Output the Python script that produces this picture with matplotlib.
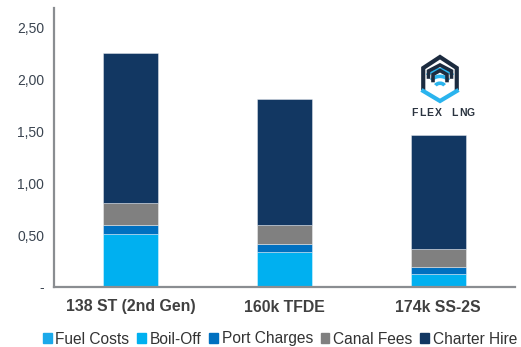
import matplotlib.pyplot as plt
import numpy as np
from matplotlib.patches import Arc

# cost per vessel type (USD/MMBtu)
vessels = ["138 ST (2nd Gen)", "160k TFDE", "174k SS-2S"]
fuel_costs = [0.0, 0.0, 0.0]
boil_off = [0.51, 0.335, 0.125]
port_charges = [0.09, 0.075, 0.065]
canal_fees = [0.21, 0.19, 0.175]
charter_hire = [1.45, 1.21, 1.105]

series = [
    ("Fuel Costs", fuel_costs, "#1ba9ea"),
    ("Boil-Off", boil_off, "#00b0f0"),
    ("Port Charges", port_charges, "#0070c0"),
    ("Canal Fees", canal_fees, "#808080"),
    ("Charter Hire", charter_hire, "#123762"),
]

plt.rcParams["font.family"] = ["Liberation Sans", "DejaVu Sans"]

fig = plt.figure(figsize=(5.21, 3.47), dpi=100)
ax = fig.add_axes([54 / 521, 60 / 347, 461 / 521, 279 / 347])

x = np.arange(len(vessels))
bottom = np.zeros(len(vessels))
for name, vals, col in series:
    vals = np.array(vals)
    ax.bar(x, vals, width=0.36, bottom=bottom, color=col, label=name,
           edgecolor=(1, 1, 1, 0.45), linewidth=0.6)
    bottom += vals

ax.set_xlim(-0.5, 2.5)
ax.set_ylim(0, 2.69)
ax.set_yticks([0, 0.5, 1.0, 1.5, 2.0, 2.5])
ax.set_yticklabels(["-", "0,50", "1,00", "1,50", "2,00", "2,50"],
                   fontsize=10, color="#3a4450")
ax.set_xticks(x)
ax.set_xticklabels(vessels, fontsize=11.4, fontweight="bold", color="#404040")
ax.tick_params(length=0)
ax.tick_params(axis="y", pad=7)
ax.tick_params(axis="x", pad=9)
for s in ["top", "right"]:
    ax.spines[s].set_visible(False)
for s in ["left", "bottom"]:
    ax.spines[s].set_color("#8a8d91")
    ax.spines[s].set_linewidth(1.6)

handles = [plt.Rectangle((0, 0), 1, 1, color=c) for _, _, c in series]
fig.legend(handles, [n for n, _, _ in series], loc="center",
           bbox_to_anchor=(280 / 521, 1 - 339 / 347), ncol=5, frameon=False,
           fontsize=11.2, handlelength=0.55, handleheight=0.55, handletextpad=0.25,
           columnspacing=0.5, labelcolor="#333333", borderpad=0)

# FLEX LNG logo, drawn in pixel coordinates
lax = fig.add_axes([400 / 521, 1 - 125 / 347, 90 / 521, 75 / 347])
lax.set_xlim(400, 490)
lax.set_ylim(125, 50)
lax.axis("off")
navy = "#1c2b3f"
sky = "#2ab4ee"
cx, cy, r = 440, 79, 22
ang = np.deg2rad(np.array([90, 150, 210, 270, 330, 30]))
hx = cx + r * np.cos(ang) * 0.88
hy = cy - r * np.sin(ang)
# upper part of hexagon (dark), lower part (blue)
lax.plot([hx[2], hx[1], hx[0], hx[5], hx[4]],
         [hy[2] - 2, hy[1], hy[0], hy[5], hy[4] - 2], color=navy, lw=3,
         solid_joinstyle="miter")
lax.plot([hx[2], hx[3], hx[4]], [hy[2] + 1, hy[3], hy[4] + 1], color=sky, lw=3,
         solid_joinstyle="miter")
# nested chevrons
for k, (w, h) in enumerate([(11.5, 6), (7, 4)]):
    top = 65 + k * 5.5
    lax.plot([cx - w, cx - w, cx, cx + w, cx + w],
             [top + h + 6, top + h, top, top + h, top + h + 6],
             color=navy, lw=2.6, solid_joinstyle="miter")
# blue arcs
for k, rr in enumerate([14, 9.5, 5]):
    lax.add_patch(Arc((cx, 80 + k * 3.5), 2 * rr, 2 * rr * 0.75,
                      theta1=200, theta2=340, color=sky, lw=2.6))
for i, ch in enumerate("FLEX LNG"):
    lax.text(414 + i * 8.1, 113, ch, ha="center", va="center", fontsize=7.5,
             color="#2b3440", fontweight="bold")

fig.savefig("out.png", dpi=100)
